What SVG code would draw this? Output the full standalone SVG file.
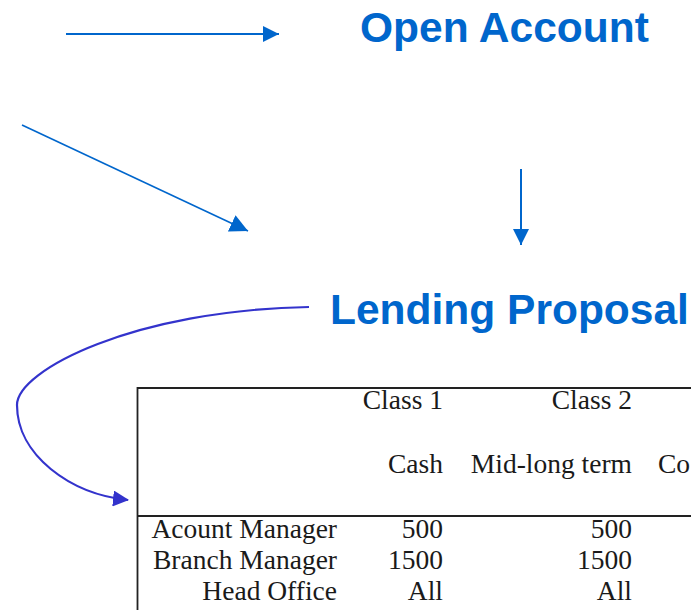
<svg xmlns="http://www.w3.org/2000/svg" width="691" height="610" viewBox="0 0 691 610">
<style>
.title{font-family:"Liberation Sans",Arial,sans-serif;font-weight:bold;font-size:42.5px;fill:#0066CC}
.tx{font-family:"Liberation Serif","Times New Roman",serif;font-size:27.5px;fill:#1a1a1a}
.r{text-anchor:end}
.blue{stroke:#0066CC;fill:none}
</style>
<defs>
<marker id="ah" markerUnits="userSpaceOnUse" markerWidth="18" markerHeight="16" refX="16" refY="8" orient="auto">
<path d="M0,0 L16,8 L0,16 Z" fill="#0066CC"/>
</marker>
<marker id="ahl" markerUnits="userSpaceOnUse" markerWidth="20" markerHeight="18" refX="18" refY="9" orient="auto">
<path d="M0,0 L18,9 L0,18 Z" fill="#0066CC"/>
</marker>
<marker id="ahc" markerUnits="userSpaceOnUse" markerWidth="18" markerHeight="16" refX="15" refY="8" orient="auto">
<path d="M0,0 L16,8 L0,16 Z" fill="#3333CC"/>
</marker>
</defs>
<g id="connectors">
<line class="blue" x1="66" y1="34" x2="279" y2="34" stroke-width="2.2" marker-end="url(#ah)"/>
<line class="blue" x1="22" y1="125" x2="248" y2="231" stroke-width="1.6" marker-end="url(#ahl)"/>
<line class="blue" x1="521" y1="169" x2="521" y2="245" stroke-width="2" marker-end="url(#ah)"/>
<path d="M309,307 C135,310 17,370 17,405 C17,455 70,494 128,500" fill="none" stroke="#3333CC" stroke-width="2.2" marker-end="url(#ahc)"/>
</g>
<g id="open-account">
<text class="title" x="360" y="42">Open Account</text>
</g>
<g id="lending-proposal">
<text class="title" x="330" y="324">Lending Proposal</text>
</g>
<g id="table">
<path d="M696,388 H137.5 V615" fill="none" stroke="#222" stroke-width="1.8"/>
<line x1="137" y1="516" x2="696" y2="516" stroke="#222" stroke-width="1.8"/>
<text class="tx r" x="443" y="409">Class 1</text>
<text class="tx r" x="632" y="409">Class 2</text>
<text class="tx r" x="443" y="473">Cash</text>
<text class="tx r" x="632" y="473">Mid-long term</text>
<text class="tx" x="658" y="473">Co</text>
<text class="tx r" x="337" y="538">Acount Manager</text>
<text class="tx r" x="443" y="538">500</text>
<text class="tx r" x="632" y="538">500</text>
<text class="tx r" x="337" y="569">Branch Manager</text>
<text class="tx r" x="443" y="569">1500</text>
<text class="tx r" x="632" y="569">1500</text>
<text class="tx r" x="337" y="600">Head Office</text>
<text class="tx r" x="443" y="600">All</text>
<text class="tx r" x="632" y="600">All</text>
</g>
</svg>
